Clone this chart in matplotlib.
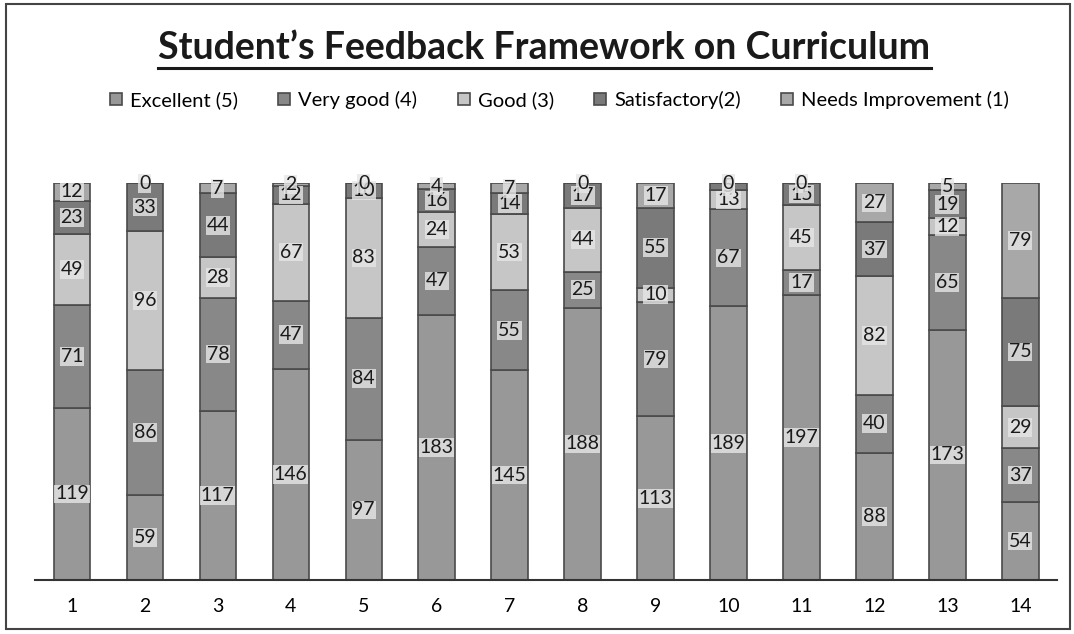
import matplotlib
matplotlib.use('Agg')
import matplotlib.pyplot as plt
import numpy as np
from matplotlib.lines import Line2D
from matplotlib.patches import Rectangle

plt.rcParams['font.family'] = ['Lato', 'DejaVu Sans']

questions = [str(i) for i in range(1, 15)]
series = ['Excellent (5)', 'Very good (4)', 'Good (3)', 'Satisfactory(2)', 'Needs Improvement (1)']
excellent = [119, 59, 117, 146, 97, 183, 145, 188, 113, 189, 197, 88, 173, 54]
very_good = [71, 86, 78, 47, 84, 47, 55, 25, 79, 67, 17, 40, 65, 37]
good = [49, 96, 28, 67, 83, 24, 53, 44, 10, 13, 45, 82, 12, 29]
satisfactory = [23, 33, 44, 12, 10, 16, 14, 17, 55, 5, 15, 37, 19, 75]
needs_impr = [12, 0, 7, 2, 0, 4, 7, 0, 17, 0, 0, 27, 5, 79]
colors = ['#989898', '#888888', '#c6c6c6', '#7a7a7a', '#a8a8a8']

fig = plt.figure(figsize=(10.74, 6.34), dpi=100)
ax = fig.add_axes([0.033, 0.085, 0.951, 0.626])

x = np.arange(len(questions))
bottom = np.zeros(len(questions))
for name, vals, col in zip(series, [excellent, very_good, good, satisfactory, needs_impr], colors):
    bars = ax.bar(x, vals, 0.5, bottom=bottom, color=col, edgecolor='#4a4a4a',
                  linewidth=1.2, label=name)
    ax.bar_label(bars, labels=[str(v) for v in vals], label_type='center',
                 fontsize=14, color='#1a1a1a',
                 bbox=dict(facecolor='#e6e6e6', edgecolor='none', pad=0.5, alpha=0.8))
    bottom += np.array(vals)

ax.set_xlim(-0.5, len(questions) - 0.5)
ax.set_ylim(0, 274)
ax.set_xticks(x)
ax.set_xticklabels(questions, fontsize=14)
ax.tick_params(axis='x', length=0, pad=13)
ax.set_yticks([])
for s in ['top', 'left', 'right']:
    ax.spines[s].set_visible(False)
ax.spines['bottom'].set_color('#333333')
ax.spines['bottom'].set_linewidth(1.5)

ttl = fig.text(0.507, 0.924, "Student\u2019s Feedback Framework on Curriculum",
               ha='center', va='center', fontsize=27, fontweight='bold', color='#1a1a1a')

fig.legend(loc='center', bbox_to_anchor=(0.521, 0.842), ncol=5, frameon=False,
           fontsize=14.5, handlelength=0.6, handleheight=0.6, handletextpad=0.4,
           columnspacing=2.0)

# underline the title
fig.canvas.draw()
bb = ttl.get_window_extent().transformed(fig.transFigure.inverted())
fig.add_artist(Line2D([bb.x0, bb.x1], [bb.y0 - 0.004, bb.y0 - 0.004],
                      transform=fig.transFigure, color='#1a1a1a', linewidth=2.2))

# frame around the chart
fig.add_artist(Rectangle((0.006, 0.008), 0.99, 0.985, transform=fig.transFigure,
                         fill=False, edgecolor='#444444', linewidth=1.5))

fig.savefig('out.png', dpi=100)
